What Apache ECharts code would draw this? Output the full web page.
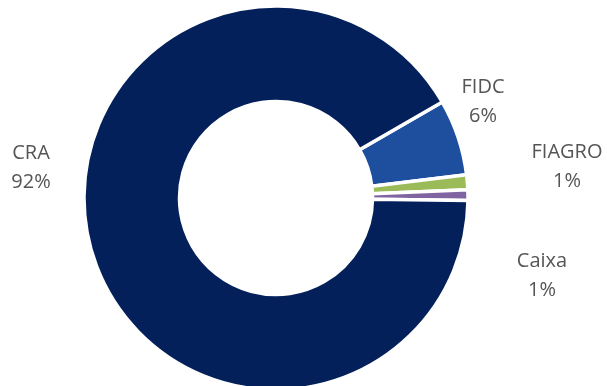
<!DOCTYPE html>
<html>
<head>
<meta charset="utf-8">
<script src="https://cdn.jsdelivr.net/npm/echarts@6/dist/echarts.min.js"></script>
<style>
html,body{margin:0;padding:0;background:#fff;}
#chart{width:607px;height:386px;}
</style>
</head>
<body>
<div id="chart"></div>
<script>
// Data
const categories = ['FIDC', 'FIAGRO', 'Caixa', 'CRA'];
const values = [6.4, 1.25, 0.9, 91.45];
const colors = ['#1E4F9F', '#9BBB59', '#8064A2', '#03205A'];

// Label placement (label block centers, px)
const labelCenters = [[483, 102], [567, 167], [542, 276], [31, 168]];

const chart = echarts.init(document.getElementById('chart'), null, {renderer: 'canvas'});
chart.setOption({
  animation: false,
  backgroundColor: '#ffffff',
  series: [{
    type: 'pie',
    center: [276, 198],
    radius: [96.5, 192],
    startAngle: 30,
    clockwise: true,
    avoidLabelOverlap: false,
    percentPrecision: 0,
    itemStyle: {borderColor: '#ffffff', borderWidth: 3.5},
    label: {
      show: true,
      position: 'outside',
      formatter: '{b}\n{d}%',
      fontFamily: 'Open Sans',
      fontSize: 20,
      lineHeight: 29,
      color: '#555555',
      align: 'center'
    },
    labelLine: {show: false},
    labelLayout: function (p) {
      const c = labelCenters[p.dataIndex];
      return {x: c[0], y: c[1], align: 'center', verticalAlign: 'middle'};
    },
    data: categories.map((n, i) => ({name: n, value: values[i], itemStyle: {color: colors[i]}}))
  }]
});
</script>
</body>
</html>
